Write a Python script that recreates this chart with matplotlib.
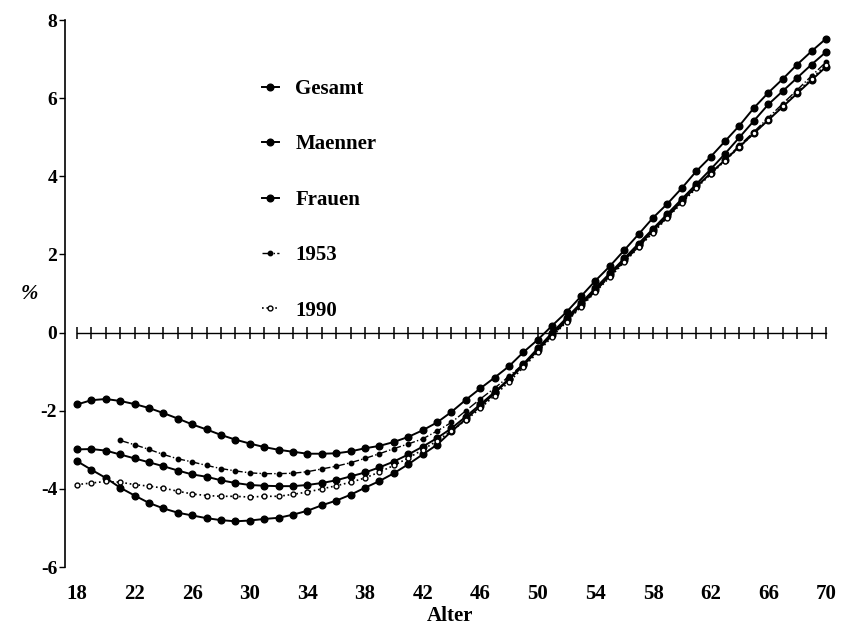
import numpy as np
import matplotlib
matplotlib.use("Agg")
import matplotlib.pyplot as plt

ages = list(range(18, 71))
ages_1953 = list(range(21, 71))

maenner = [-1.84, -1.73, -1.70, -1.75, -1.83, -1.93, -2.06, -2.20, -2.35, -2.48,
           -2.62, -2.74, -2.84, -2.93, -3.00, -3.05, -3.10, -3.10, -3.09, -3.04,
           -2.96, -2.90, -2.80, -2.67, -2.50, -2.30, -2.03, -1.72, -1.43, -1.15,
           -0.86, -0.50, -0.18, 0.18, 0.53, 0.93, 1.33, 1.70, 2.11, 2.52,
           2.94, 3.30, 3.70, 4.13, 4.50, 4.90, 5.30, 5.75, 6.14, 6.49,
           6.86, 7.20, 7.52]
gesamt = [-2.99, -2.98, -3.02, -3.12, -3.22, -3.32, -3.42, -3.53, -3.63, -3.69,
          -3.78, -3.85, -3.90, -3.92, -3.93, -3.93, -3.90, -3.85, -3.78, -3.68,
          -3.58, -3.45, -3.30, -3.12, -2.92, -2.70, -2.45, -2.15, -1.84, -1.52,
          -1.18, -0.80, -0.40, 0.00, 0.38, 0.76, 1.14, 1.52, 1.90, 2.28,
          2.66, 3.04, 3.42, 3.80, 4.18, 4.58, 5.00, 5.42, 5.84, 6.18,
          6.52, 6.86, 7.18]
frauen = [-3.29, -3.51, -3.72, -3.97, -4.17, -4.36, -4.50, -4.61, -4.68, -4.75,
          -4.80, -4.83, -4.81, -4.77, -4.74, -4.66, -4.56, -4.42, -4.30, -4.15,
          -3.97, -3.80, -3.60, -3.37, -3.12, -2.87, -2.53, -2.21, -1.89, -1.55,
          -1.20, -0.84, -0.45, -0.05, 0.33, 0.71, 1.09, 1.47, 1.85, 2.23,
          2.61, 2.99, 3.37, 3.74, 4.08, 4.42, 4.76, 5.10, 5.44, 5.78,
          6.12, 6.46, 6.80]
y1953 = [-2.76, -2.87, -2.99, -3.12, -3.23, -3.31, -3.40, -3.48, -3.54, -3.59,
         -3.61, -3.61, -3.60, -3.56, -3.49, -3.42, -3.33, -3.22, -3.10, -2.97,
         -2.85, -2.72, -2.52, -2.30, -2.00, -1.70, -1.42, -1.12, -0.80, -0.45,
         -0.08, 0.30, 0.68, 1.06, 1.44, 1.82, 2.20, 2.58, 2.96, 3.34,
         3.72, 4.08, 4.43, 4.79, 5.14, 5.50, 5.86, 6.21, 6.57, 6.92]
y1990 = [-3.89, -3.85, -3.81, -3.83, -3.89, -3.93, -3.98, -4.06, -4.13, -4.17,
         -4.19, -4.19, -4.21, -4.19, -4.19, -4.14, -4.08, -4.00, -3.92, -3.83,
         -3.72, -3.57, -3.40, -3.21, -3.00, -2.77, -2.52, -2.24, -1.94, -1.61,
         -1.26, -0.89, -0.50, -0.10, 0.28, 0.66, 1.04, 1.42, 1.80, 2.18,
         2.56, 2.94, 3.32, 3.70, 4.05, 4.40, 4.75, 5.10, 5.45, 5.80,
         6.15, 6.50, 6.85]

xticks = list(range(18, 71, 4))
yticks = [-6, -4, -2, 0, 2, 4, 6, 8]

plt.rcParams["font.family"] = "Liberation Serif"
plt.rcParams["font.weight"] = "bold"
plt.rcParams["axes.labelweight"] = "bold"
plt.rcParams["axes.unicode_minus"] = False

fig = plt.figure(figsize=(8.47, 6.28), dpi=100)
ax = fig.add_axes([0.0773, 0.0971, 0.908, 0.871])

# zero line with year marks
ax.plot(ages, np.zeros(len(ages)), "-", color="black", lw=1.0,
        marker="|", ms=9, mew=1.1, zorder=2)

ax.plot(ages, gesamt, "-", color="black", lw=1.4, marker="o", ms=4.8, label="Gesamt")
ax.plot(ages, maenner, "-", color="black", lw=1.4, marker="o", ms=4.8, label="Maenner")
ax.plot(ages, frauen, "-", color="black", lw=1.4, marker="o", ms=4.8, label="Frauen")
ax.plot(ages_1953, y1953, "-.", color="black", lw=1.0, marker="o", ms=3.2, label="1953")
ax.plot(ages, y1990, ":", color="black", lw=1.2, marker="o", ms=3.5,
        mfc="white", mew=1.0, label="1990")

ax.set_xlim(17.2, 70.6)
ax.set_ylim(-6, 8)
for s in ("top", "right", "bottom"):
    ax.spines[s].set_visible(False)
ax.spines["left"].set_linewidth(1.2)

ax.set_xticks(xticks)
ax.set_yticks(yticks)
ax.tick_params(axis="x", length=0, pad=12, labelsize=15)
ax.tick_params(axis="y", length=4, width=1, direction="out", pad=2, labelsize=14)
ax.set_xlabel("Alter", fontsize=15, labelpad=2)
ax.set_ylabel("%", rotation=0, fontsize=15, labelpad=8, va="center", style="italic")

ax.legend(loc="upper left", bbox_to_anchor=(262 / 847, 1 - 79 / 628),
          bbox_transform=fig.transFigure, frameon=False, fontsize=15,
          handlelength=0.8, handletextpad=0.8, labelspacing=1.7,
          borderpad=0, borderaxespad=0)

fig.savefig("out.png", dpi=100)
